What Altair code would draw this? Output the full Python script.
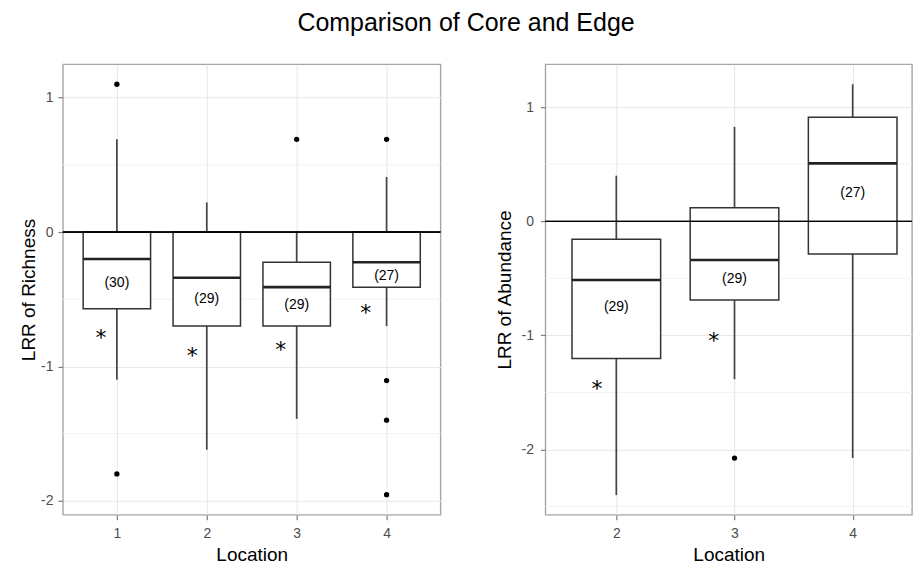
import altair as alt
import pandas as pd

title_text = "Comparison of Core and Edge"
x_title = "Location"

# ---- left panel: LRR of Richness ----
left_locs = [1, 2, 3, 4]
left_lower = [-1.10, -1.62, -1.39, -0.70]
left_q1 = [-0.57, -0.70, -0.70, -0.41]
left_median = [-0.20, -0.34, -0.41, -0.225]
left_q3 = [0.0, 0.0, -0.225, 0.0]
left_upper = [0.69, 0.22, 0.0, 0.41]
left_counts = ["(30)", "(29)", "(29)", "(27)"]
left_count_y = [-0.38, -0.50, -0.54, -0.33]
left_star_x = [0.822, 1.837, 2.822, 3.767]
left_star_y = [-0.75, -0.885, -0.835, -0.56]
left_out_loc = [1, 1, 3, 4, 4, 4, 4]
left_out_val = [1.10, -1.80, 0.69, 0.69, -1.105, -1.40, -1.955]
left_y_ticks = [-2, -1, 0, 1]
left_y_minor = [-1.5, -0.5, 0.5]
left_x_ticks = [1, 2, 3, 4]

# ---- right panel: LRR of Abundance ----
right_locs = [2, 3, 4]
right_lower = [-2.40, -1.384, -2.075]
right_q1 = [-1.203, -0.689, -0.286]
right_median = [-0.514, -0.339, 0.508]
right_q3 = [-0.158, 0.119, 0.913]
right_upper = [0.40, 0.828, 1.202]
right_counts = ["(29)", "(29)", "(27)"]
right_count_y = [-0.748, -0.505, 0.245]
right_star_x = [1.837, 2.825]
right_star_y = [-1.419, -1.004]
right_out_loc = [3]
right_out_val = [-2.075]
right_y_ticks = [-2, -1, 0, 1]
right_y_minor = [-2.5, -1.5, -0.5, 0.5]
right_x_ticks = [2, 3, 4]

FONT = "Liberation Sans"
BOX_HALF = 0.375


def panel(locs, lower, q1, median, q3, upper, counts, count_y, star_x, star_y,
          out_loc, out_val, y_ticks, y_minor, x_ticks, x_domain, y_domain,
          y_title, width, height, y_label_pad, y_title_pad):
    boxes = pd.DataFrame(dict(loc=locs, lower=lower, q1=q1, median=median,
                              q3=q3, upper=upper, label=counts, label_y=count_y))
    stars = pd.DataFrame(dict(sx=star_x, sy=star_y, s=["*"] * len(star_x)))
    outs = pd.DataFrame(dict(loc=out_loc, val=out_val))
    minor = pd.DataFrame(dict(v=y_minor))

    xs = alt.Scale(domain=x_domain, nice=False, zero=False)
    ys = alt.Scale(domain=y_domain, nice=False, zero=False)
    xa = alt.Axis(values=x_ticks, labelExpr="toString(datum.value)", title=x_title,
                  grid=True, labelPadding=7, titlePadding=5)
    ya = alt.Axis(values=y_ticks, labelExpr="toString(datum.value)", title=y_title,
                  grid=True, labelPadding=y_label_pad, titlePadding=y_title_pad)

    base = alt.Chart(boxes).transform_calculate(
        xl=f"datum.loc - {BOX_HALF}", xr=f"datum.loc + {BOX_HALF}")

    minor_grid = alt.Chart(minor).mark_rule(color="#F2F2F2", strokeWidth=1).encode(
        y=alt.Y("v:Q", scale=ys, axis=ya))

    whisk_lo = base.mark_rule(color="#444444", strokeWidth=1.7).encode(
        x=alt.X("loc:Q", scale=xs, axis=xa),
        y=alt.Y("lower:Q", scale=ys, axis=ya), y2="q1:Q")
    whisk_hi = base.mark_rule(color="#444444", strokeWidth=1.7).encode(
        x=alt.X("loc:Q", scale=xs, axis=xa),
        y=alt.Y("q3:Q", scale=ys, axis=ya), y2="upper:Q")
    box = base.mark_rect(fill="white", stroke="#333333", strokeWidth=1.5).encode(
        x=alt.X("xl:Q", scale=xs, axis=xa), x2="xr:Q",
        y=alt.Y("q1:Q", scale=ys, axis=ya), y2="q3:Q")
    med = base.mark_rule(color="#222222", strokeWidth=2.6).encode(
        x=alt.X("xl:Q", scale=xs, axis=xa), x2="xr:Q",
        y=alt.Y("median:Q", scale=ys, axis=ya))
    lab = base.mark_text(font=FONT, fontSize=14, color="black", baseline="middle").encode(
        x=alt.X("loc:Q", scale=xs, axis=xa),
        y=alt.Y("label_y:Q", scale=ys, axis=ya), text="label:N")
    star = alt.Chart(stars).mark_text(font="DejaVu Sans", fontSize=22, color="black",
                                      baseline="alphabetic", dy=12.5).encode(
        x=alt.X("sx:Q", scale=xs, axis=xa),
        y=alt.Y("sy:Q", scale=ys, axis=ya), text="s:N")
    pts = alt.Chart(outs).mark_circle(color="black", opacity=1, size=28).encode(
        x=alt.X("loc:Q", scale=xs, axis=xa),
        y=alt.Y("val:Q", scale=ys, axis=ya))
    zero = alt.Chart(boxes).mark_rule(color="black", strokeWidth=1).encode(
        y=alt.datum(0))

    return alt.layer(minor_grid, whisk_lo, whisk_hi, box, med, lab, star, pts, zero).properties(
        width=width, height=height)


left = panel(left_locs, left_lower, left_q1, left_median, left_q3, left_upper,
             left_counts, left_count_y, left_star_x, left_star_y,
             left_out_loc, left_out_val, left_y_ticks, left_y_minor, left_x_ticks,
             [0.4, 4.6], [-2.104, 1.249], "LRR of Richness", 378, 451, 5, 2)
right = panel(right_locs, right_lower, right_q1, right_median, right_q3, right_upper,
              right_counts, right_count_y, right_star_x, right_star_y,
              right_out_loc, right_out_val, right_y_ticks, right_y_minor, right_x_ticks,
              [1.4, 4.502], [-2.572, 1.377], "LRR of Abundance", 367, 451, 7, 6)

chart = alt.hconcat(left, right, spacing=52).properties(
    title=alt.TitleParams(title_text, font=FONT, fontSize=25, fontWeight="normal",
                          color="black", anchor="middle", offset=28),
    padding={"left": 18, "top": 10, "right": 0, "bottom": 0},
    background="white",
).configure_view(
    stroke="#A6A6A6", strokeWidth=1.4
).configure_axis(
    labelFont=FONT, labelFontSize=14, labelColor="#4D4D4D",
    titleFont=FONT, titleFontSize=19, titleFontWeight="normal", titleColor="black",
    tickColor="#7F7F7F", tickSize=5, tickWidth=1.2, domain=False,
    gridColor="#E6E6E6", gridWidth=1,
)

chart.save("out.html", embed_options={"renderer": "svg", "actions": False})
